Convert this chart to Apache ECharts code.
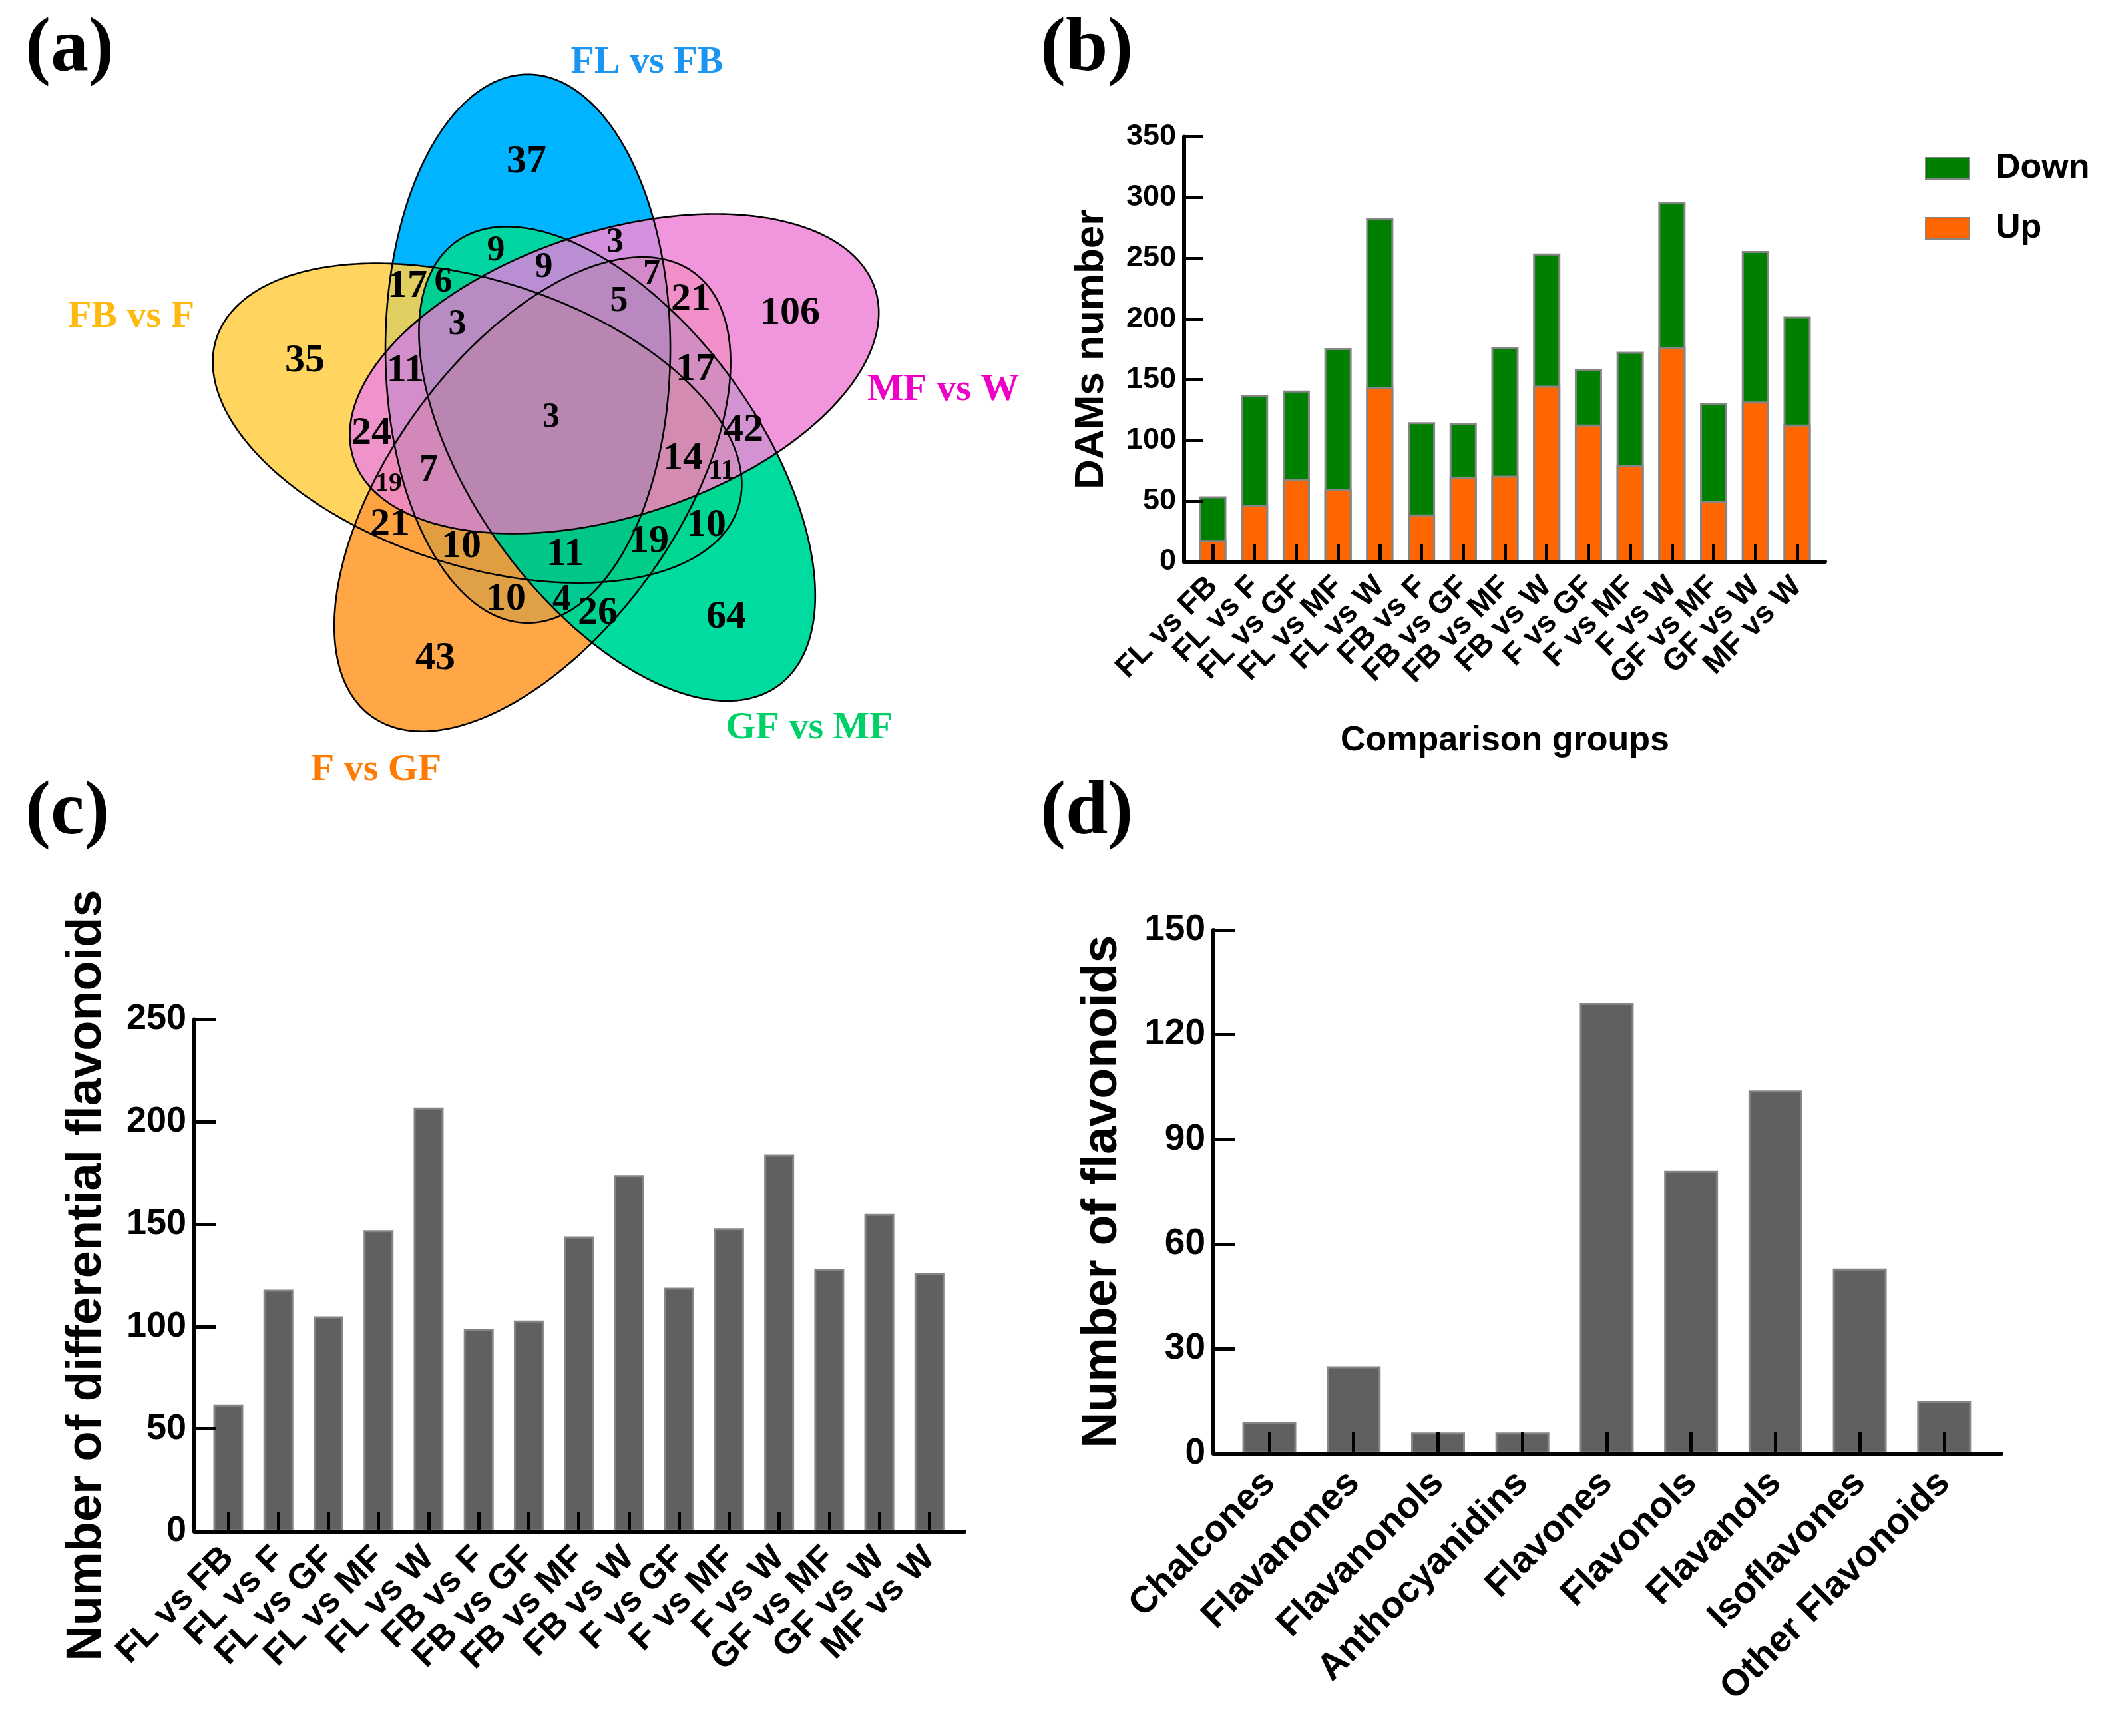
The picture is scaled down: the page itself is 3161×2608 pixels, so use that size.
<!DOCTYPE html>
<html><head><meta charset="utf-8">
<script src="https://cdn.jsdelivr.net/npm/echarts@6/dist/echarts.min.js"></script>
<style>html,body{margin:0;padding:0;background:#fff}#c{width:3161px;height:2608px}</style>
</head><body><div id="c"></div>
<script>
// ================= DATA =================
// (a) Venn diagram
const vennSets = ['FL vs FB', 'MF vs W', 'GF vs MF', 'F vs GF', 'FB vs F'];
const vennCounts = [37, 106, 35, 64, 43, 9, 9, 3, 7, 21, 17, 6, 3, 5, 11, 17, 3, 24, 42, 14, 11, 19, 7, 21, 10, 11, 19, 10, 10, 4, 26];

// (b) DAMs per comparison group
const groups = ['FL vs FB','FL vs F','FL vs GF','FL vs MF','FL vs W','FB vs F','FB vs GF','FB vs MF','FB vs W','F vs GF','F vs MF','F vs W','GF vs MF','GF vs W','MF vs W'];
const upValues   = [18, 47, 68, 60, 144, 39, 70, 71, 145, 113, 80, 177, 50, 132, 113];
const downValues = [36, 90, 73, 116, 139, 76, 44, 106, 109, 46, 93, 119, 81, 124, 89];

// (c) differential flavonoids per comparison group
const flavonoidCounts = [62, 118, 105, 147, 207, 99, 103, 144, 174, 119, 148, 184, 128, 155, 126];

// (d) flavonoid classes
const classes = ['Chalcones','Flavanones','Flavanonols','Anthocyanidins','Flavones','Flavonols','Flavanols','Isoflavones','Other Flavonoids'];
const classCounts = [9, 25, 6, 6, 129, 81, 104, 53, 15];

// ================= LAYOUT / STYLE =================
const FONT_SANS = '"Liberation Sans", Arial, sans-serif';
const FONT_SERIF = '"Liberation Serif", "Times New Roman", serif';

// venn geometry (pixel units of the venn grid)
const VL = {cx: 832, cy: 632, r: 115, a: 412, b: 214, centerAngle0: -109.8, axisAngle0: -90, step: 72};
const vennLobeColors = ['#00b4ff', '#f296dc', '#00dca0', '#ffa745', '#ffd660'];
const vennSetLabelColors = ['#1a96f2', '#ee00c8', '#00d068', '#ff7a00', '#ffb90f'];
const vennSetLabelPos = [[972, 94], [1417, 586], [1216, 1094], [565, 1157], [197, 476]];
const vennDrawOrder = [0, 4, 3, 2, 1]; // bottom -> top
const vennLabelPos = [[791,243],[1187,470],[458,542],[1091,927],[654,989],[745,377],[817,402],[924,365],[979,413],[1038,450],[612,430],[666,424],[687,488],[930,453],[609,557],[1045,555],[828,628],[558,651],[1117,646],[1026,689],[1084,708],[584,727],[644,708],[586,788],[693,821],[849,833],[975,813],[1061,789],[760,900],[844,903],[898,921]];
const vennLabelSize = [60,60,60,60,60,54,54,52,52,60,60,54,54,54,60,60,52,60,60,60,42,40,56,60,60,60,60,60,60,56,60];
const BETA = 0.12;

function hexToRgb(h){ return [parseInt(h.slice(1,3),16)/255, parseInt(h.slice(3,5),16)/255, parseInt(h.slice(5,7),16)/255]; }
function rgbStr(c){ return 'rgb(' + c.map(v => Math.round(Math.max(0, Math.min(1, v)) * 255)).join(',') + ')'; }
const tint = vennLobeColors.map(h => hexToRgb(h).map(t => 1 - BETA * (1 - t)));
const baseFill = vennLobeColors.map((h, i) => hexToRgb(h).map((t, j) => t / tint[i][j]));

function ellipsePoints(k, api) {
  const ca = (VL.centerAngle0 + k * VL.step) * Math.PI / 180;
  const ex = VL.cx + VL.r * Math.cos(ca), ey = VL.cy + VL.r * Math.sin(ca);
  const ra = (VL.axisAngle0 + k * VL.step) * Math.PI / 180;
  const pts = [];
  for (let i = 0; i < 360; i++) {
    const t = i * Math.PI / 180;
    const u = VL.a * Math.cos(t), v = VL.b * Math.sin(t);
    pts.push(api.coord([ex + u * Math.cos(ra) - v * Math.sin(ra), ey + u * Math.sin(ra) + v * Math.cos(ra)]));
  }
  return pts;
}
function ellipseSeries(mode) {
  return {
    type: 'custom', coordinateSystem: 'cartesian2d', xAxisIndex: 0, yAxisIndex: 0, silent: true,
    z: mode === 'fill' ? 2 : (mode === 'tint' ? 3 : 4),
    blendMode: mode === 'tint' ? 'multiply' : 'source-over',
    data: vennDrawOrder.map(k => [VL.cx, VL.cy, k]),
    renderItem: (params, api) => {
      const k = api.value(2);
      let style;
      if (mode === 'fill') style = {fill: rgbStr(baseFill[k]), stroke: null};
      else if (mode === 'tint') style = {fill: rgbStr(tint[k]), stroke: null};
      else style = {fill: null, stroke: '#000', lineWidth: 2.6};
      return {type: 'polygon', shape: {points: ellipsePoints(k, api)}, style};
    }
  };
}

function barXAxis(gridIndex, names, min, max, fontSize, tickLen, margin, showLabels) {
  const vals = names.map((_, i) => i);
  return {
    type: 'value', gridIndex, min, max, z: 10,
    axisLine: {show: true, onZero: false, lineStyle: {color: '#000', width: 6}},
    axisTick: {show: true, inside: true, length: tickLen, customValues: vals, lineStyle: {color: '#000', width: 5}},
    axisLabel: {show: showLabels, customValues: vals, rotate: 45, margin, hideOverlap: false, showMinLabel: true, showMaxLabel: true,
      formatter: v => names[Math.round(v)] || '',
      fontSize, fontWeight: 'bold', fontFamily: FONT_SANS, color: '#000'},
    splitLine: {show: false}
  };
}
function barYAxis(gridIndex, max, interval, fontSize, tickLen, name, nameSize, nameGap) {
  return {
    type: 'value', gridIndex, min: 0, max, interval, z: 10,
    name, nameLocation: 'middle', nameRotate: 90, nameGap,
    nameTextStyle: {fontSize: nameSize, fontWeight: 'bold', fontFamily: FONT_SANS, color: '#000'},
    axisLine: {show: true, onZero: false, lineStyle: {color: '#000', width: 6}},
    axisTick: {show: true, inside: true, length: tickLen, lineStyle: {color: '#000', width: 5}},
    axisLabel: {fontSize, fontWeight: 'bold', fontFamily: FONT_SANS, color: '#000', margin: 12, showMinLabel: true, showMaxLabel: true},
    splitLine: {show: false}
  };
}
const barBorder = {borderColor: '#858585', borderWidth: 3};
const totalValues = upValues.map((v, i) => v + downValues[i]);

const option = {
  animation: false,
  backgroundColor: '#ffffff',
  grid: [
    {left: 0, top: 0, width: 1560, height: 1240},
    {left: 1779, top: 205.5, width: 963, height: 638.5},
    {left: 292, top: 1531.5, width: 1157, height: 769},
    {left: 1823, top: 1397, width: 1184, height: 786.6},
    {left: 1791, top: 205.5, width: 940, height: 638.5}   // label band for (b)
  ],
  xAxis: [
    {type: 'value', gridIndex: 0, min: 0, max: 1560, show: false},
    barXAxis(1, groups, -0.686, 14.67, 46, 26, 30, false),
    barXAxis(2, groups, -0.678, 14.70, 53, 29, 32, true),
    barXAxis(3, classes, -0.663, 8.68, 56, 32, 36, true),
    {type: 'category', gridIndex: 4, data: groups, axisLine: {show: false}, axisTick: {show: false}, splitLine: {show: false},
      axisLabel: {interval: 0, rotate: 45, margin: 30, fontSize: 46, fontWeight: 'bold', fontFamily: FONT_SANS, color: '#000'}}
  ],
  yAxis: [
    {type: 'value', gridIndex: 0, min: 0, max: 1240, inverse: true, show: false},
    barYAxis(1, 350, 50, 45, 28, 'DAMs number', 62, 108),
    barYAxis(2, 250, 50, 54, 32, 'Number of differential flavonoids', 74, 124),
    barYAxis(3, 150, 30, 55, 32, 'Number of flavonoids', 75, 129),
    {type: 'value', gridIndex: 4, min: 0, max: 350, show: false}
  ],
  legend: {
    data: ['Down', 'Up'], orient: 'vertical', left: 2887, top: 218,
    itemWidth: 66, itemHeight: 32, itemGap: 30, icon: 'rect',
    textStyle: {fontSize: 52, lineHeight: 60, fontWeight: 'bold', fontFamily: FONT_SANS, color: '#000', padding: [0, 0, 0, 34]}
  },
  graphic: [
    {type: 'text', x: 38, y: 76, style: {text: '(a)', fontSize: 114, fontWeight: 'bold', fontFamily: FONT_SERIF, fill: '#000', verticalAlign: 'middle'}},
    {type: 'text', x: 1563, y: 76, style: {text: '(b)', fontSize: 114, fontWeight: 'bold', fontFamily: FONT_SERIF, fill: '#000', verticalAlign: 'middle'}},
    {type: 'text', x: 38, y: 1223, style: {text: '(c)', fontSize: 114, fontWeight: 'bold', fontFamily: FONT_SERIF, fill: '#000', verticalAlign: 'middle'}},
    {type: 'text', x: 1563, y: 1223, style: {text: '(d)', fontSize: 114, fontWeight: 'bold', fontFamily: FONT_SERIF, fill: '#000', verticalAlign: 'middle'}},
    {type: 'text', x: 2261, y: 1113, style: {text: 'Comparison groups', fontSize: 52, fontWeight: 'bold', fontFamily: FONT_SANS, fill: '#000', align: 'center', verticalAlign: 'middle'}}
  ],
  series: [
    ellipseSeries('fill'),
    ellipseSeries('tint'),
    ellipseSeries('outline'),
    {
      type: 'custom', coordinateSystem: 'cartesian2d', xAxisIndex: 0, yAxisIndex: 0, z: 6, silent: true,
      data: vennCounts.map((c, i) => [vennLabelPos[i][0], vennLabelPos[i][1], c]),
      renderItem: (params, api) => {
        const p = api.coord([api.value(0), api.value(1)]);
        return {type: 'text', x: p[0], y: p[1], style: {text: String(api.value(2)), fontSize: vennLabelSize[params.dataIndex],
          fontWeight: 'bold', fontFamily: FONT_SERIF, fill: '#000', align: 'center', verticalAlign: 'middle'}};
      }
    },
    {
      type: 'custom', coordinateSystem: 'cartesian2d', xAxisIndex: 0, yAxisIndex: 0, z: 6, silent: true,
      data: vennSets.map((s, i) => [vennSetLabelPos[i][0], vennSetLabelPos[i][1], i]),
      renderItem: (params, api) => {
        const i = api.value(2);
        const p = api.coord([api.value(0), api.value(1)]);
        return {type: 'text', x: p[0], y: p[1], style: {text: vennSets[i], fontSize: 58, fontWeight: 'bold',
          fontFamily: FONT_SERIF, fill: vennSetLabelColors[i], align: 'center', verticalAlign: 'middle'}};
      }
    },
    {
      // Down segment: drawn from 0 up to Up + Down, Up bar drawn over its lower part
      name: 'Down', type: 'bar', xAxisIndex: 1, yAxisIndex: 1, barWidth: 41, barGap: '-100%', z: 2,
      itemStyle: Object.assign({color: '#008000'}, barBorder),
      data: totalValues.map((v, i) => [i, v])
    },
    {
      name: 'Up', type: 'bar', xAxisIndex: 1, yAxisIndex: 1, barWidth: 41, barGap: '-100%', z: 3,
      itemStyle: Object.assign({color: '#ff6600'}, barBorder),
      data: upValues.map((v, i) => [i, v])
    },
    {
      name: 'Differential flavonoids', type: 'bar', xAxisIndex: 2, yAxisIndex: 2, barWidth: 45,
      itemStyle: Object.assign({color: '#606060'}, barBorder),
      data: flavonoidCounts.map((v, i) => [i, v])
    },
    {
      name: 'Flavonoids', type: 'bar', xAxisIndex: 3, yAxisIndex: 3, barWidth: 81,
      itemStyle: Object.assign({color: '#606060'}, barBorder),
      data: classCounts.map((v, i) => [i, v])
    }
  ]
};
const chart = echarts.init(document.getElementById('c'), null, {renderer: 'canvas'});
chart.setOption(option);
</script>
</body></html>
